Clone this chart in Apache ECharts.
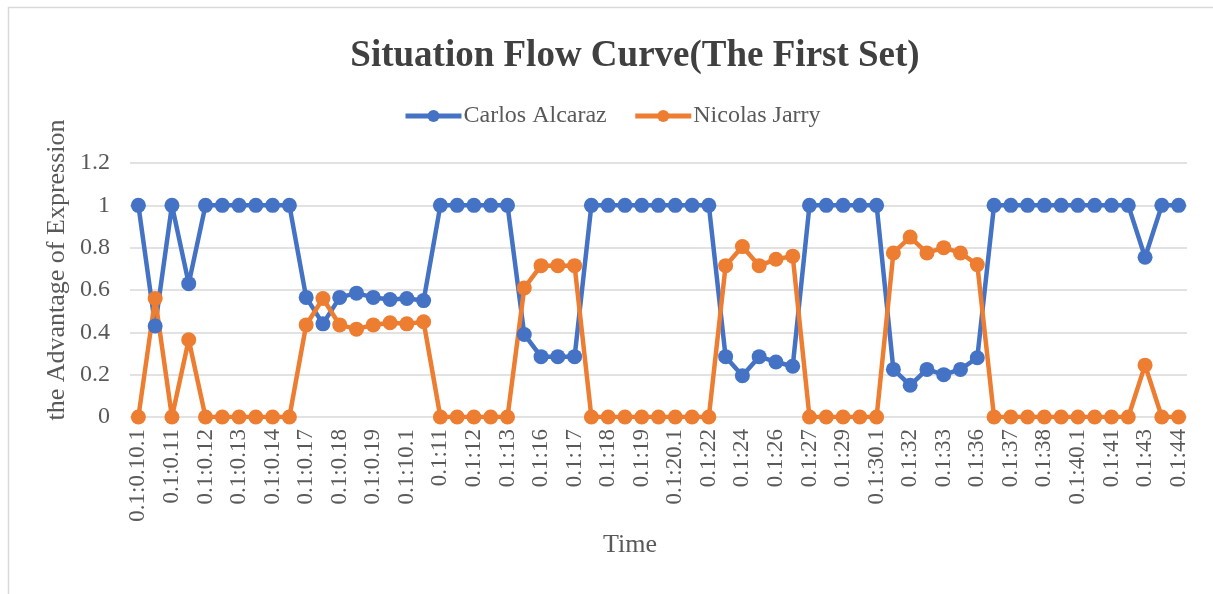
<!DOCTYPE html>
<html>
<head>
<meta charset="utf-8">
<script src="https://cdn.jsdelivr.net/npm/echarts@6/dist/echarts.min.js"></script>
<style>html,body{margin:0;padding:0;background:#fff;}#c{width:1213px;height:594px;}</style>
</head>
<body>
<div id="c"></div>
<script>
// Category labels shown on the axis (every other point)
const tickLabels = ['0.1:0.10.1','0.1:0.11','0.1:0.12','0.1:0.13','0.1:0.14','0.1:0.17','0.1:0.18','0.1:0.19','0.1:10.1','0.1:11','0.1:12','0.1:13','0.1:16','0.1:17','0.1:18','0.1:19','0.1:20.1','0.1:22','0.1:24','0.1:26','0.1:27','0.1:29','0.1:30.1','0.1:32','0.1:33','0.1:36','0.1:37','0.1:38','0.1:40.1','0.1:41','0.1:43','0.1:44'];
// Unlabelled in-between points (names not visible in the picture)
const hiddenLabels = ['0.1:0.10.2','0.1:0.11.1','0.1:0.12.1','0.1:0.13.1','0.1:0.14.1','0.1:0.17.1','0.1:0.18.1','0.1:0.19.1','0.1:10.2','0.1:11.1','0.1:12.1','0.1:13.1','0.1:16.1','0.1:17.1','0.1:18.1','0.1:19.1','0.1:20.2','0.1:22.1','0.1:24.1','0.1:26.1','0.1:27.1','0.1:29.1','0.1:30.2','0.1:32.1','0.1:33.1','0.1:36.1','0.1:37.1','0.1:38.1','0.1:40.2','0.1:41.1','0.1:43.1'];
const categories = [];
for (let i = 0; i < tickLabels.length; i++) {
  categories.push(tickLabels[i]);
  if (i < hiddenLabels.length) categories.push(hiddenLabels[i]);
}
const alcaraz = [1,0.43,1,0.63,1,1,1,1,1,1,0.565,0.44,0.565,0.585,0.565,0.555,0.56,0.55,1,1,1,1,1,0.39,0.285,0.285,0.285,1,1,1,1,1,1,1,1,0.285,0.195,0.285,0.26,0.24,1,1,1,1,1,0.225,0.15,0.225,0.2,0.225,0.28,1,1,1,1,1,1,1,1,1,0.755,1,1];
const jarry = [0,0.56,0,0.365,0,0,0,0,0,0,0.435,0.56,0.435,0.415,0.435,0.445,0.44,0.45,0,0,0,0,0,0.61,0.715,0.715,0.715,0,0,0,0,0,0,0,0,0.715,0.805,0.715,0.745,0.76,0,0,0,0,0,0.775,0.85,0.775,0.8,0.775,0.72,0,0,0,0,0,0,0,0,0,0.245,0,0];
const yTicks = [0, 0.2, 0.4, 0.6, 0.8, 1, 1.2];

const FONT = "'Liberation Serif','Times New Roman',serif";
const chart = echarts.init(document.getElementById('c'));
chart.setOption({
  backgroundColor: '#fff',
  animation: false,
  title: {
    text: 'Situation Flow Curve(The First Set)',
    left: 630, top: 33, textAlign: 'center',
    textStyle: {fontFamily: FONT, fontSize: 37, fontWeight: 'bold', color: '#404040'}
  },
  legend: {
    left: 398, top: 99, itemWidth: 56, itemHeight: 15, itemGap: 26,
    lineStyle: {width: 5},
    textStyle: {fontFamily: FONT, fontSize: 24, color: '#595959', padding: [0,0,0,-3]},
    data: ['Carlos Alcaraz', 'Nicolas Jarry']
  },
  grid: {left: 130, right: 26, top: 163, bottom: 177, containLabel: false},
  xAxis: {
    type: 'category', data: categories, boundaryGap: true,
    axisLine: {show: false}, axisTick: {show: false},
    axisLabel: {interval: 1, rotate: 90, fontFamily: FONT, fontSize: 23, color: '#595959', margin: 12}
  },
  yAxis: {
    type: 'value', min: 0, max: 1.2, interval: 0.2,
    axisLine: {show: false}, axisTick: {show: false},
    splitLine: {lineStyle: {color: '#d9d9d9', width: 1.5}},
    axisLabel: {fontFamily: FONT, fontSize: 24, color: '#595959', margin: 20,
      formatter: v => { const t = yTicks.find(x => Math.abs(x - v) < 1e-9); return String(+(t !== undefined ? t : v).toFixed(1)); }}
  },
  graphic: [
    {type: 'rect', shape: {x: 8.5, y: 7.5, width: 1220, height: 620}, style: {fill: 'none', stroke: '#d9d9d9', lineWidth: 1.5}, silent: true, z: -1},
    {type: 'text', x: 57, y: 270, rotation: Math.PI / 2, style: {text: 'the Advantage of Expression', font: "26px 'Liberation Serif','Times New Roman',serif", fill: '#595959', textAlign: 'center', textVerticalAlign: 'middle'}},
    {type: 'text', x: 630, y: 545, style: {text: 'Time', font: "26px 'Liberation Serif','Times New Roman',serif", fill: '#595959', textAlign: 'center', textVerticalAlign: 'middle'}}
  ],
  series: [
    {name: 'Carlos Alcaraz', type: 'line', data: alcaraz, symbol: 'circle', symbolSize: 15, showAllSymbol: true,
     lineStyle: {width: 4.5, color: '#4472C4'}, itemStyle: {color: '#4472C4'}},
    {name: 'Nicolas Jarry', type: 'line', data: jarry, symbol: 'circle', symbolSize: 15, showAllSymbol: true,
     lineStyle: {width: 4.5, color: '#ED7D31'}, itemStyle: {color: '#ED7D31'}}
  ]
});
</script>
</body>
</html>
